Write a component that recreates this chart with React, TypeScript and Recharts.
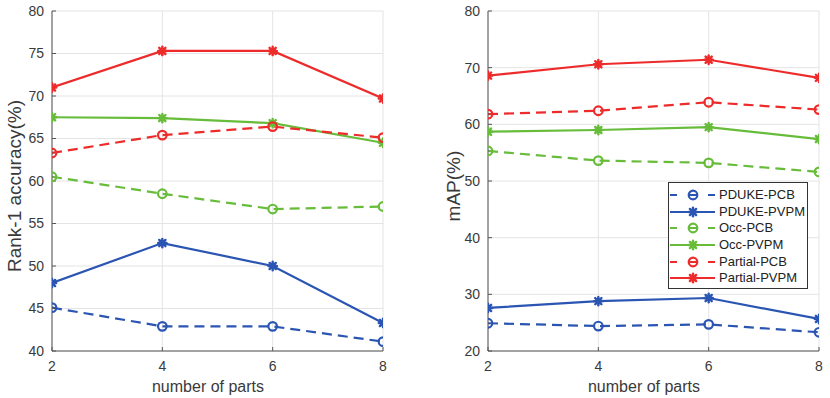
import React from 'react';
import { LineChart, Line, XAxis, YAxis, CartesianGrid, Legend, Label } from 'recharts';

const parts = [2, 4, 6, 8];
const xTicks = [2, 4, 6, 8];
const rankTicks = [40, 45, 50, 55, 60, 65, 70, 75, 80];
const mapTicks = [20, 30, 40, 50, 60, 70, 80];

const seriesNames = ['PDUKE-PCB', 'PDUKE-PVPM', 'Occ-PCB', 'Occ-PVPM', 'Partial-PCB', 'Partial-PVPM'];

const rankPdukePcb = [45.1, 42.9, 42.9, 41.1];
const rankPdukePvpm = [48.0, 52.7, 50.0, 43.3];
const rankOccPcb = [60.5, 58.5, 56.7, 57.0];
const rankOccPvpm = [67.5, 67.4, 66.8, 64.5];
const rankPartialPcb = [63.3, 65.4, 66.4, 65.1];
const rankPartialPvpm = [71.0, 75.3, 75.3, 69.7];

const mapPdukePcb = [24.9, 24.4, 24.7, 23.3];
const mapPdukePvpm = [27.6, 28.8, 29.35, 25.65];
const mapOccPcb = [55.3, 53.6, 53.2, 51.6];
const mapOccPvpm = [58.7, 59.0, 59.5, 57.4];
const mapPartialPcb = [61.8, 62.4, 63.9, 62.6];
const mapPartialPvpm = [68.6, 70.6, 71.4, 68.2];

const BLUE = '#2b55b2';
const GREEN = '#67bc3a';
const RED = '#ee2b2b';
const seriesColors = [BLUE, BLUE, GREEN, GREEN, RED, RED];
const seriesDashed = [true, false, true, false, true, false];

const FONT = '"Liberation Sans", Arial, Helvetica, sans-serif';

function buildRows(cols: number[][]) {
  return parts.map((p, i) => {
    const row: any = { parts: p };
    seriesNames.forEach((n, k) => {
      row[n] = cols[k][i];
    });
    return row;
  });
}

const rankRows = buildRows([rankPdukePcb, rankPdukePvpm, rankOccPcb, rankOccPvpm, rankPartialPcb, rankPartialPvpm]);
const mapRows = buildRows([mapPdukePcb, mapPdukePvpm, mapOccPcb, mapOccPvpm, mapPartialPcb, mapPartialPvpm]);

function CircleMark({ cx, cy, color }: any) {
  return <circle cx={cx} cy={cy} r={4.3} fill="none" stroke={color} strokeWidth={2.2} />;
}

function StarMark({ cx, cy, color }: any) {
  const a = 4.2;
  const d = 3.1;
  return (
    <g stroke={color} strokeWidth={2.4} strokeLinecap="round">
      <line x1={cx - a} y1={cy} x2={cx + a} y2={cy} />
      <line x1={cx} y1={cy - a} x2={cx} y2={cy + a} />
      <line x1={cx - d} y1={cy - d} x2={cx + d} y2={cy + d} />
      <line x1={cx - d} y1={cy + d} x2={cx + d} y2={cy - d} />
      <circle cx={cx} cy={cy} r={3.2} fill={color} stroke="none" />
    </g>
  );
}

function makeDot(k: number) {
  return (props: any) => {
    const { cx, cy, index } = props;
    if (cx == null || cy == null) return <g key={`e-${k}-${index}`} />;
    return seriesDashed[k] ? (
      <CircleMark key={`d-${k}-${index}`} cx={cx} cy={cy} color={seriesColors[k]} />
    ) : (
      <StarMark key={`d-${k}-${index}`} cx={cx} cy={cy} color={seriesColors[k]} />
    );
  };
}

function LegendBox() {
  return (
    <div
      style={{
        border: '1px solid #333',
        background: '#fff',
        width: 138,
        paddingTop: 4,
        paddingBottom: 1,
        fontFamily: FONT,
        fontSize: 13,
        color: '#222',
        boxSizing: 'content-box',
      }}
    >
      {seriesNames.map((n, k) => (
        <div key={n} style={{ height: 16.6, display: 'flex', alignItems: 'center' }}>
          <svg width={48} height={16} style={{ display: 'block', flex: 'none' }}>
            {seriesDashed[k] ? (
              <g>
                <line x1={1} y1={8} x2={8} y2={8} stroke={seriesColors[k]} strokeWidth={2} />
                <line x1={19} y1={8} x2={29} y2={8} stroke={seriesColors[k]} strokeWidth={2} />
                <line x1={39} y1={8} x2={46} y2={8} stroke={seriesColors[k]} strokeWidth={2} />
                <CircleMark cx={24} cy={8} color={seriesColors[k]} />
              </g>
            ) : (
              <g>
                <line x1={1} y1={8} x2={46} y2={8} stroke={seriesColors[k]} strokeWidth={2} />
                <StarMark cx={24} cy={8} color={seriesColors[k]} />
              </g>
            )}
          </svg>
          <span style={{ marginLeft: 2, lineHeight: '16px', whiteSpace: 'nowrap' }}>{n}</span>
        </div>
      ))}
    </div>
  );
}

function Panel({
  rows,
  domain,
  ticks,
  yLabel,
  marginLeft,
  marginRight,
  yLabelX,
  xLabelX,
  showLegend,
}: any) {
  const tickStyle = { fill: '#3a3a3a', fontSize: 14, fontFamily: FONT };
  return (
    <LineChart
      width={415}
      height={398}
      data={rows}
      margin={{ top: 11, right: marginRight, bottom: 0, left: marginLeft }}
    >
      <CartesianGrid stroke="#e4e4e4" strokeWidth={1} />
      <XAxis
        dataKey="parts"
        type="number"
        domain={[2, 8]}
        ticks={xTicks}
        height={47}
        stroke="#555"
        tickSize={-4}
        tickMargin={14}
        tick={tickStyle}
        allowDataOverflow
      >
        <Label
          content={() => (
            <text
              x={xLabelX}
              y={392}
              textAnchor="middle"
              fontFamily={FONT}
              fontSize={16}
              fill="#3a3a3a"
            >
              number of parts
            </text>
          )}
        />
      </XAxis>
      <XAxis
        xAxisId="top"
        orientation="top"
        dataKey="parts"
        type="number"
        domain={[2, 8]}
        ticks={xTicks}
        height={0}
        mirror
        stroke="#555"
        tickSize={4}
        tickFormatter={() => ''}
        allowDataOverflow
      />
      <YAxis
        type="number"
        domain={domain}
        ticks={ticks}
        width={40}
        stroke="#555"
        tickSize={-4}
        tickMargin={12}
        tick={tickStyle}
        allowDataOverflow
      >
        <Label
          content={() => (
            <text
              x={yLabelX}
              y={186}
              transform={`rotate(-90, ${yLabelX}, 186)`}
              textAnchor="middle"
              fontFamily={FONT}
              fontSize={19}
              fill="#3a3a3a"
            >
              {yLabel}
            </text>
          )}
        />
      </YAxis>
      <YAxis
        yAxisId="right"
        orientation="right"
        type="number"
        domain={domain}
        ticks={ticks}
        width={0}
        mirror
        stroke="#555"
        tickSize={4}
        tickFormatter={() => ''}
        allowDataOverflow
      />
      {seriesNames.map((n, k) => (
        <Line
          key={n}
          type="linear"
          dataKey={n}
          name={n}
          stroke={seriesColors[k]}
          strokeWidth={2.2}
          strokeDasharray={seriesDashed[k] ? '10 6' : undefined}
          dot={makeDot(k)}
          activeDot={false}
          isAnimationActive={false}
        />
      ))}
      {showLegend && (
        <Legend
          layout="vertical"
          align="center"
          verticalAlign="middle"
          content={() => <LegendBox />}
          wrapperStyle={{ position: 'absolute', left: 253, top: 182, width: 140, height: 106 }}
        />
      )}
    </LineChart>
  );
}

export default function App() {
  return (
    <div
      style={{
        position: 'absolute',
        left: 0,
        top: 0,
        width: 830,
        height: 398,
        background: '#fff',
        display: 'flex',
      }}
    >
      <Panel
        rows={rankRows}
        domain={[40, 80]}
        ticks={rankTicks}
        yLabel="Rank-1 accuracy(%)"
        marginLeft={12}
        marginRight={32}
        yLabelX={21}
        xLabelX={208}
        showLegend={false}
      />
      <Panel
        rows={mapRows}
        domain={[20, 80]}
        ticks={mapTicks}
        yLabel="mAP(%)"
        marginLeft={33}
        marginRight={11}
        yLabelX={45}
        xLabelX={229}
        showLegend={true}
      />
    </div>
  );
}
